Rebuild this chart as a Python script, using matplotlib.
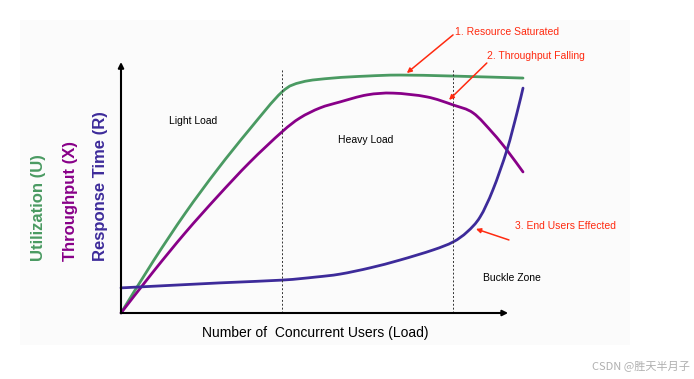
import matplotlib
matplotlib.use("Agg")
import matplotlib.pyplot as plt
from matplotlib.patches import Rectangle, PathPatch
from matplotlib.path import Path

plt.rcParams['font.family'] = ['Liberation Sans', 'DejaVu Sans']

# load axis 0..100, value axis 0..100 (arbitrary units)
util_x = [0, 8, 16, 24, 32, 40, 45, 52.7, 61.2, 69.4, 82.6, 100]
util_y = [0, 20.6, 39.8, 57.2, 73.2, 88, 92, 93.6, 94.4, 94.8, 94.4, 93.6]

thru_x = [0, 8, 16, 24, 32, 40, 44.5, 49.5, 54.5, 61.2, 67.7, 76.1, 82.6, 87.6, 92.5, 96, 100]
thru_y = [0, 16.4, 32, 46.4, 60, 72.1, 77.7, 81.7, 84.1, 86.9, 87.6, 86.1, 82.9, 79.7, 71.7, 64.9, 56.2]

resp_x = [0, 24.6, 40, 48.3, 54.5, 62, 69.4, 77.6, 82.6, 86.1, 89.3, 92.5, 96, 98.5, 100]
resp_y = [10, 12, 13.1, 14.3, 15.5, 18, 21.1, 25.1, 28.3, 32.3, 38.2, 49, 64.9, 79.7, 89.6]

zone_marks = [40, 82.6]


def smooth_path(xs, ys):
    # Catmull-Rom through the given points, written as cubic Bezier segments
    pts = list(zip(xs, ys))
    verts = [pts[0]]
    codes = [Path.MOVETO]
    n = len(pts)
    for i in range(n - 1):
        p0 = pts[max(i - 1, 0)]
        p1 = pts[i]
        p2 = pts[i + 1]
        p3 = pts[min(i + 2, n - 1)]
        c1 = (p1[0] + (p2[0] - p0[0]) / 6, p1[1] + (p2[1] - p0[1]) / 6)
        c2 = (p2[0] - (p3[0] - p1[0]) / 6, p2[1] - (p3[1] - p1[1]) / 6)
        verts += [c1, c2, p2]
        codes += [Path.CURVE4] * 3
    return Path(verts, codes)


fig = plt.figure(figsize=(6.94, 3.79), dpi=100)
fig.patch.set_facecolor('white')
fig.patches.append(Rectangle((20 / 694, 1 - 345 / 379), 610 / 694, 325 / 379,
                             transform=fig.transFigure, facecolor='#fbfbfb',
                             edgecolor='none', zorder=-5))

ax = fig.add_axes([121 / 694, 1 - 313 / 379, 402 / 694, 251 / 379])
ax.set_xlim(0, 100)
ax.set_ylim(0, 100)
ax.axis('off')

# axes with arrows
ax.annotate('', xy=(96.3, 0), xytext=(0, 0),
            arrowprops=dict(arrowstyle='-|>', color='black', lw=1.5,
                            mutation_scale=8, shrinkA=0, shrinkB=0),
            annotation_clip=False)
ax.annotate('', xy=(0, 100), xytext=(0, 0),
            arrowprops=dict(arrowstyle='-|>', color='black', lw=1.5,
                            mutation_scale=8, shrinkA=0, shrinkB=0),
            annotation_clip=False)

for xm in zone_marks:
    ax.plot([xm, xm], [0, 97.6], color='#333333', lw=0.7, ls=(0, (2, 2)))

for xs, ys, col in [(util_x, util_y, '#4a9a62'),
                    (thru_x, thru_y, '#880088'),
                    (resp_x, resp_y, '#3d2b9a')]:
    ax.add_patch(PathPatch(smooth_path(xs, ys), facecolor='none', edgecolor=col,
                           lw=2, clip_on=False, capstyle='round'))

red = '#ff2a10'
ax.text(83.1, 112, '1. Resource Saturated', color=red, fontsize=7.5, ha='left', va='center')
ax.annotate('', xy=(71.1, 95.6), xytext=(82.6, 110.8),
            arrowprops=dict(arrowstyle='-|>', color=red, lw=1.1, mutation_scale=7,
                            shrinkA=0, shrinkB=0), annotation_clip=False)
ax.text(91, 102.4, '2. Throughput Falling', color=red, fontsize=7.5, ha='left', va='center')
ax.annotate('', xy=(81.6, 84.9), xytext=(91, 99.6),
            arrowprops=dict(arrowstyle='-|>', color=red, lw=1.1, mutation_scale=7,
                            shrinkA=0, shrinkB=0), annotation_clip=False)
ax.text(98, 34.7, '3. End Users Effected', color=red, fontsize=7.5, ha='left', va='center')
ax.annotate('', xy=(88.3, 33.5), xytext=(96.5, 29.1),
            arrowprops=dict(arrowstyle='-|>', color=red, lw=1.1, mutation_scale=7,
                            shrinkA=0, shrinkB=0), annotation_clip=False)

ax.text(11.9, 76.5, 'Light Load', fontsize=7.5, ha='left', va='center')
ax.text(54, 68.9, 'Heavy Load', fontsize=7.5, ha='left', va='center')
ax.text(90, 13.9, 'Buckle Zone', fontsize=7.5, ha='left', va='center', clip_on=False)

fig.text(315 / 694, 1 - 333 / 379, 'Number of  Concurrent Users (Load)',
         fontsize=10, ha='center', va='center')

ylabels = ['Utilization (U)', 'Throughput (X)', 'Response Time (R)']
ycolors = ['#4a9a62', '#880088', '#3d2b9a']
ypos = [39, 70, 101]
for lab, col, xp in zip(ylabels, ycolors, ypos):
    fig.text(xp / 694, 1 - 261 / 379, lab, color=col, fontsize=12,
             fontweight='bold', rotation=90, ha='center', va='bottom')

fig.text(690 / 694, 1 - 366 / 379, 'CSDN @胜天半月子', color='#b0b0b0', fontsize=8,
         ha='right', va='center', family=['Noto Sans CJK SC', 'DejaVu Sans'])

fig.savefig('out.png', dpi=100)
